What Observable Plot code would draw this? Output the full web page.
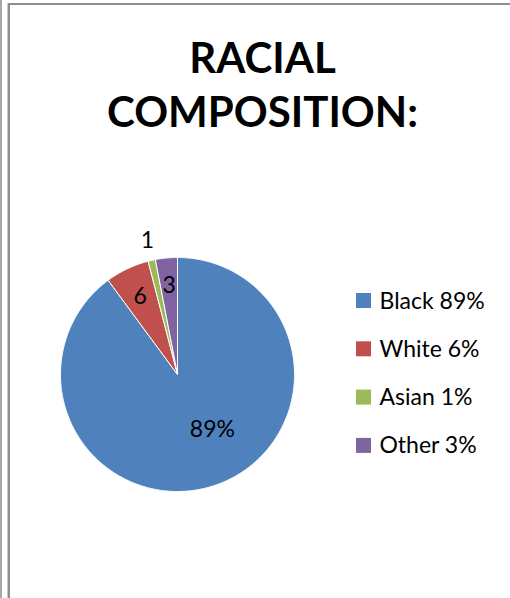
<!DOCTYPE html>
<html>
<head>
<meta charset="utf-8">
<script src="https://cdn.jsdelivr.net/npm/d3@7"></script>
<script src="https://cdn.jsdelivr.net/npm/@observablehq/plot@0.6"></script>
<style>
  html, body { margin: 0; padding: 0; background: #fff; }
  #wrap { position: relative; width: 510px; height: 598px; overflow: hidden; }
  .b { position: absolute; }
  #wrap svg { position: absolute; left: 0; top: 0; }
</style>
</head>
<body>
<div id="wrap">
  <div class="b" style="left:0;top:0;width:2px;height:598px;background:#a8a8a8"></div>
  <div class="b" style="left:7px;top:3px;width:1px;height:595px;background:#c8c8c8"></div>
  <div class="b" style="left:8px;top:3px;width:2px;height:595px;background:#8e8e8e"></div>
  <div class="b" style="left:8px;top:3px;width:502px;height:2px;background:#8e8e8e"></div>
</div>
<script>
// ---- data ----
const categories = ["Black", "White", "Asian", "Other"];
const values = [89, 6, 1, 3];
const sliceLabels = ["89%", "6", "1", "3"];
const legendLabels = ["Black 89%", "White 6%", "Asian 1%", "Other 3%"];
const colors = ["#4F81BD", "#C0504D", "#9BBB59", "#8064A2"];
const titleText = "RACIAL\nCOMPOSITION:";

// ---- layout ----
const W = 510, H = 598;
const cx = 177, cy = 374, R = 117;
const labelRadius = [0.56, 0.74, 1.17, 0.76];
const labelAngleShift = [-14, 0, 0, 0]; // degrees
const font = "Lato, 'Open Sans', sans-serif";

const pie = d3.pie().sort(null).value(d => d.value)
  .startAngle(0).endAngle(2 * Math.PI);
const arcs = pie(categories.map((c, i) => ({name: c, value: values[i], i})));

const poly = [];
arcs.forEach(a => {
  const name = a.data.name;
  poly.push({name, x: cx, y: cy});
  const n = Math.max(4, Math.ceil((a.endAngle - a.startAngle) / (Math.PI / 360)));
  for (let k = 0; k <= n; k++) {
    const t = a.startAngle + (a.endAngle - a.startAngle) * k / n;
    poly.push({name, x: cx + R * Math.sin(t), y: cy - R * Math.cos(t)});
  }
  poly.push({name, x: cx, y: cy});
});

const labels = arcs.map((a, i) => {
  const t = (a.startAngle + a.endAngle) / 2 + labelAngleShift[i] * Math.PI / 180;
  const r = R * labelRadius[i];
  return {text: sliceLabels[i], x: cx + r * Math.sin(t), y: cy - r * Math.cos(t)};
});

const legX = 356, legY = 293, legStep = 48.3, sw = 15;
const legend = categories.map((c, i) => ({
  name: c, label: legendLabels[i],
  x1: legX, x2: legX + sw, y1: legY + i * legStep, y2: legY + i * legStep + sw
}));

const chart = Plot.plot({
  width: W, height: H,
  margin: 0,
  x: {domain: [0, W], range: [0, W], axis: null},
  y: {domain: [0, H], range: [0, H], axis: null},
  color: {domain: categories, range: colors},
  style: {background: "transparent", overflow: "visible"},
  marks: [
    Plot.line(poly, {x: "x", y: "y", z: "name", fill: "name", stroke: "white", strokeWidth: 1, curve: "linear"}),
    Plot.text(labels, {x: "x", y: "y", text: "text", fontSize: 23, fontFamily: font, fill: "black", textAnchor: "middle", lineAnchor: "middle"}),
    Plot.rect(legend, {x1: "x1", x2: "x2", y1: "y1", y2: "y2", fill: "name"}),
    Plot.text(legend, {x: d => d.x2 + 8, y: d => d.y2, text: "label", fontSize: 23, fontFamily: font, fill: "black", textAnchor: "start", lineAnchor: "bottom"}),
    Plot.text([titleText], {x: () => 262, y: () => 126, text: d => d, fontSize: 42, fontWeight: "bold", fontFamily: font, fill: "black", textAnchor: "middle", lineAnchor: "bottom", lineHeight: 54 / 42})
  ]
});
document.getElementById("wrap").appendChild(chart);
</script>
</body>
</html>
